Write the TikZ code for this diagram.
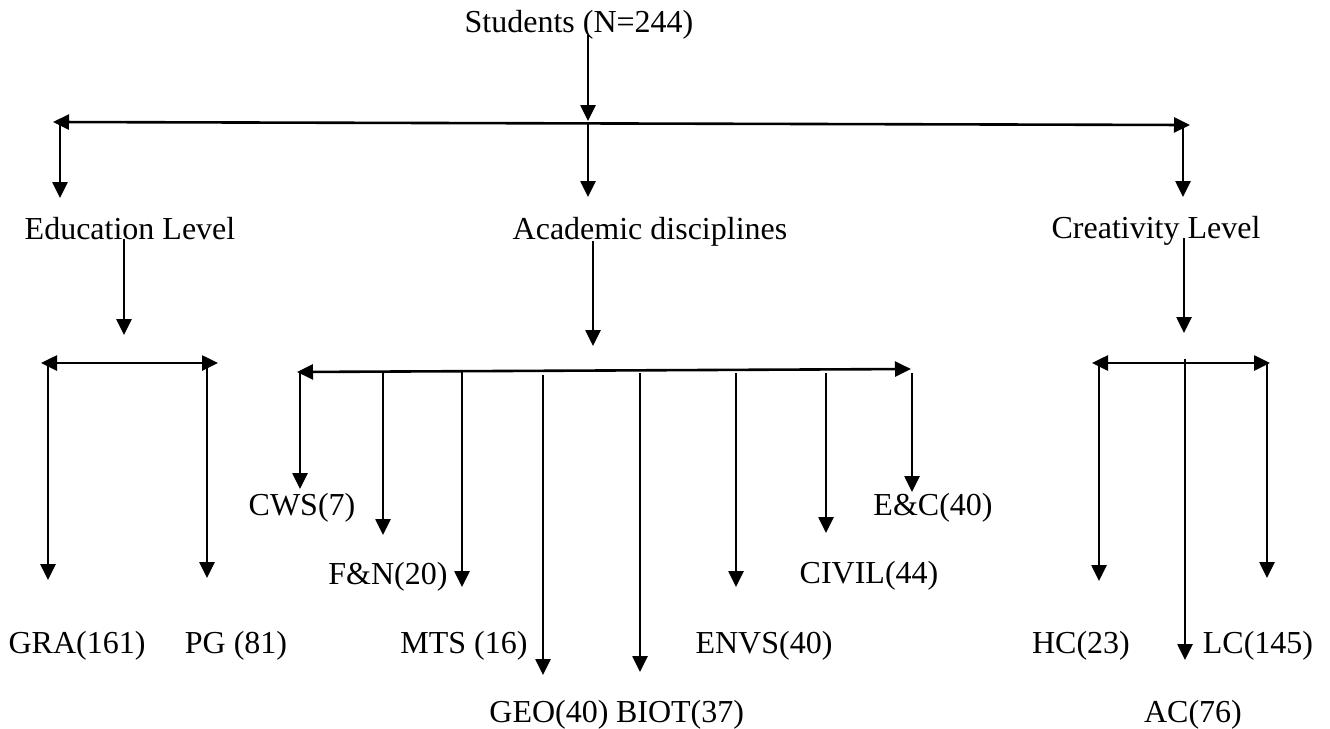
\documentclass[tikz,border=0pt]{standalone}
\usepackage{fontspec}
\setmainfont{Liberation Serif}
\usetikzlibrary{arrows.meta}
\begin{document}
\begin{tikzpicture}[x=0.5pt,y=-0.5pt,
  tipA/.tip={Triangle[length=8pt,width=7.5pt]},
  conn/.style={line width=1.3pt, -tipA},
  bar/.style={line width=1.3pt, tipA-tipA},
  lbl/.style={font=\fontsize{16}{19}\selectfont, inner sep=0pt, anchor=base}]
\useasboundingbox (0,0) rectangle (1330,729);

% ---- text nodes ----
\node[lbl] (students) at (579,32) {Students (N=244)};
\node[lbl] (edu)   at (130,239) {Education Level};
\node[lbl] (acad)  at (650,239) {Academic disciplines};
\node[lbl] (creat) at (1156,238) {Creativity Level};

\node[lbl] (gra)   at (77,653)  {GRA(161)};
\node[lbl] (pg)    at (236,653) {PG (81)};
\node[lbl] (cws)   at (302,515) {CWS(7)};
\node[lbl] (fn)    at (388,584) {F\&N(20)};
\node[lbl] (mts)   at (464,653) {MTS (16)};
\node[lbl] (geo)   at (549,722) {GEO(40)};
\node[lbl] (biot)  at (680,722) {BIOT(37)};
\node[lbl] (envs)  at (764,653) {ENVS(40)};
\node[lbl] (civil) at (869,583) {CIVIL(44)};
\node[lbl] (ec)    at (933,515) {E\&C(40)};
\node[lbl] (hc)    at (1081,653) {HC(23)};
\node[lbl] (ac)    at (1193,722) {AC(76)};
\node[lbl] (lc)    at (1258,653) {LC(145)};

% ---- coordinates ----
\coordinate (s0) at (588,35);
\coordinate (b1L) at (53,122);
\coordinate (b1R) at (1190,125);
\coordinate (b1e) at (60,122);
\coordinate (b1a) at (588,123.4);
\coordinate (b1c) at (1183,125);
\coordinate (e1) at (60,198);
\coordinate (a1) at (588,197);
\coordinate (c1) at (1183,197);

\coordinate (e2s) at (124,239);
\coordinate (e2t) at (124,335);
\coordinate (a2s) at (593,241);
\coordinate (a2t) at (593,346);
\coordinate (c2s) at (1184,238);
\coordinate (c2t) at (1184,333);

\coordinate (beL) at (41,363);
\coordinate (beR) at (218,363);
\coordinate (baL) at (297,372);
\coordinate (baR) at (911,369);
\coordinate (bcL) at (1092,363);
\coordinate (bcR) at (1270,363);

% ---- level 1 ----
\draw[conn] (s0) -- (588,121);
\draw[bar] (b1L) -- (b1R);
\draw[conn] (b1e) -- (e1);
\draw[conn] (b1a) -- (a1);
\draw[conn] (b1c) -- (c1);

% ---- label to level 2 ----
\draw[conn] (e2s) -- (e2t);
\draw[conn] (a2s) -- (a2t);
\draw[conn] (c2s) -- (c2t);

% ---- education ----
\draw[bar] (beL) -- (beR);
\draw[conn] (48,363) -- (48,580);
\draw[conn] (207,363) -- (207,578);

% ---- academic ----
\draw[bar] (baL) -- (baR);
\draw[conn] (300,372) -- (300,489);
\draw[conn] (383,371.6) -- (383,535);
\draw[conn] (462,371.2) -- (462,587);
\draw[conn] (543,375) -- (543,675);
\draw[conn] (640,373) -- (640,672);
\draw[conn] (736,373) -- (736,587);
\draw[conn] (826,373) -- (826,533);
\draw[conn] (912,373) -- (912,492);

% ---- creativity ----
\draw[bar] (bcL) -- (bcR);
\draw[conn] (1099,363) -- (1099,581);
\draw[conn] (1185,359) -- (1185,660);
\draw[conn] (1267,363) -- (1267,578);
\end{tikzpicture}
\end{document}
